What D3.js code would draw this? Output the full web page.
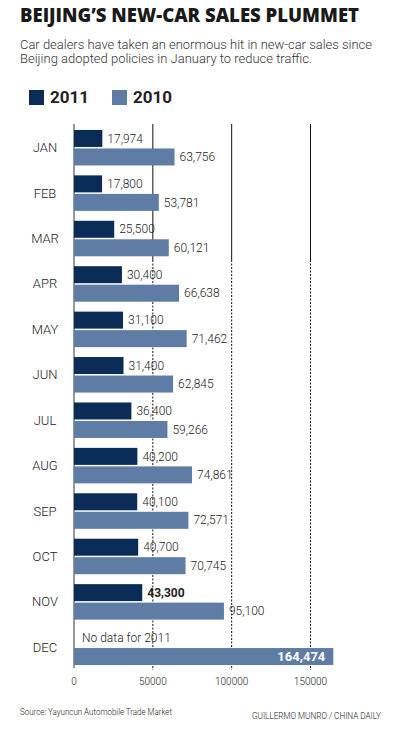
<!DOCTYPE html>
<meta charset="utf-8">
<style>
body { margin: 0; background: #fff; }
svg text { font-family: Roboto, "Open Sans", sans-serif; }
.title { font-family: "Open Sans", sans-serif; font-weight: 800; font-size: 19px; fill: #1a1a1a; }
.sub { font-size: 12.5px; font-weight: 300; fill: #333; }
.month { font-size: 13px; font-weight: 300; fill: #222; text-anchor: middle; }
.val { font-size: 12px; font-weight: 300; fill: #222; }
.tick text { font-size: 10px; font-weight: 300; fill: #222; }
.foot { font-size: 9px; font-weight: 300; fill: #222; }
</style>
<svg width="395" height="733"></svg>
<script src="https://cdn.jsdelivr.net/npm/d3@7"></script>
<script>

var months = ["JAN", "FEB", "MAR", "APR", "MAY", "JUN", "JUL", "AUG", "SEP", "OCT", "NOV", "DEC"];
var sales2011 = [17974, 17800, 25500, 30400, 31100, 31400, 36400, 40200, 40100, 40700, 43300, null];
var sales2010 = [63756, 53781, 60121, 66638, 71462, 62845, 59266, 74861, 72571, 70745, 95100, 164474];
var ticks = [0, 50000, 100000, 150000];

var c2011 = "#0b2c57",
    c2010 = "#5e7ca4";

var svg = d3.select("svg");

// header
svg.append("text").attr("class", "title")
    .attr("x", 20).attr("y", 22)
    .attr("textLength", 339).attr("lengthAdjust", "spacingAndGlyphs")
    .text("BEIJING\u2019S NEW-CAR SALES PLUMMET");

svg.append("text").attr("class", "sub").attr("x", 20).attr("y", 49)
    .attr("textLength", 352).attr("lengthAdjust", "spacingAndGlyphs")
    .text("Car dealers have taken an enormous hit in new-car sales since");
svg.append("text").attr("class", "sub").attr("x", 20).attr("y", 63)
    .attr("textLength", 292).attr("lengthAdjust", "spacingAndGlyphs")
    .text("Beijing adopted policies in January to reduce traffic.");

// legend
var legend = svg.append("g");
[["2011", c2011, 29], ["2010", c2010, 112]].forEach(function(d) {
  legend.append("rect").attr("x", d[2]).attr("y", 90).attr("width", 15).attr("height", 15).attr("fill", d[1]);
  legend.append("text").attr("x", d[2] + 21).attr("y", 103)
      .style("font-size", "17px").style("font-weight", 700).attr("fill", "#222")
      .text(d[0]);
});

// chart
var x = d3.scaleLinear().domain([0, 150000]).range([74, 310.5]);
var y = d3.scaleBand().domain(months).range([125, 670]).paddingInner(0.2).paddingOuter(0.1);
var barH = 17, gap = 1.5;

var gridTop = 124, gridBottom = 670, solidEnd = 260;

// gridlines
var grid = svg.append("g");
ticks.slice(1).forEach(function(t) {
  grid.append("line").attr("x1", x(t)).attr("x2", x(t)).attr("y1", gridTop).attr("y2", solidEnd)
      .attr("stroke", "#111").attr("stroke-width", 1);
  grid.append("line").attr("x1", x(t)).attr("x2", x(t)).attr("y1", solidEnd).attr("y2", gridBottom)
      .attr("stroke", "#111").attr("stroke-width", 1).attr("stroke-dasharray", "2,1.5");
});
svg.append("line").attr("x1", x(0)).attr("x2", x(0)).attr("y1", gridTop).attr("y2", 668)
    .attr("stroke", "#333").attr("stroke-width", 1);

var g = svg.append("g").selectAll("g")
    .data(months)
  .enter().append("g")
    .attr("transform", function(d) { return "translate(0," + y(d) + ")"; });

var groupH = barH * 2 + gap;
var off = (y.bandwidth() - groupH) / 2;

g.append("text").attr("class", "month")
    .attr("x", 45).attr("y", off + groupH / 2).attr("dy", "0.35em")
    .text(function(d) { return d; });

g.filter(function(d, i) { return sales2011[i] != null; }).append("rect")
    .attr("x", x(0))
    .attr("y", off)
    .attr("width", function(d) { return x(sales2011[months.indexOf(d)]) - x(0); })
    .attr("height", barH)
    .attr("fill", c2011);

g.append("rect")
    .attr("x", x(0))
    .attr("y", off + barH + gap)
    .attr("width", function(d, i) { return x(sales2010[i]) - x(0); })
    .attr("height", barH)
    .attr("fill", c2010);

var fmt = d3.format(",");

g.append("text").attr("class", "val")
    .attr("x", function(d, i) { return sales2011[i] != null ? x(sales2011[i]) + 5 : x(0) + 8; })
    .attr("y", off + barH / 2).attr("dy", "0.35em")
    .style("font-weight", function(d) { return d == "NOV" ? 700 : null; })
    .text(function(d, i) { return sales2011[i] != null ? fmt(sales2011[i]) : "No data for 2011"; });

g.append("text").attr("class", "val")
    .attr("x", function(d, i) { return d == "DEC" ? x(sales2010[i]) - 8 : x(sales2010[i]) + 5; })
    .attr("y", off + barH * 1.5 + gap).attr("dy", "0.35em")
    .attr("text-anchor", function(d) { return d == "DEC" ? "end" : "start"; })
    .style("fill", function(d) { return d == "DEC" ? "#fff" : null; })
    .style("font-weight", function(d) { return d == "DEC" ? 700 : null; })
    .style("font-size", function(d) { return d == "DEC" ? "13px" : null; })
    .text(function(d, i) { return fmt(sales2010[i]); });

// axis labels
var axis = svg.append("g").attr("class", "tick");
ticks.forEach(function(t) {
  axis.append("text").attr("x", x(t)).attr("y", 685).attr("text-anchor", "middle")
      .text(t);
});

svg.append("text").attr("class", "foot").attr("x", 20).attr("y", 715)
    .attr("textLength", 152).attr("lengthAdjust", "spacingAndGlyphs")
    .text("Source: Yayuncun Automobile Trade Market");
svg.append("text").attr("class", "foot").attr("x", 381).attr("y", 719)
    .attr("text-anchor", "end")
    .attr("textLength", 129).attr("lengthAdjust", "spacingAndGlyphs")
    .text("GUILLERMO MUNRO / CHINA DAILY");

</script>
